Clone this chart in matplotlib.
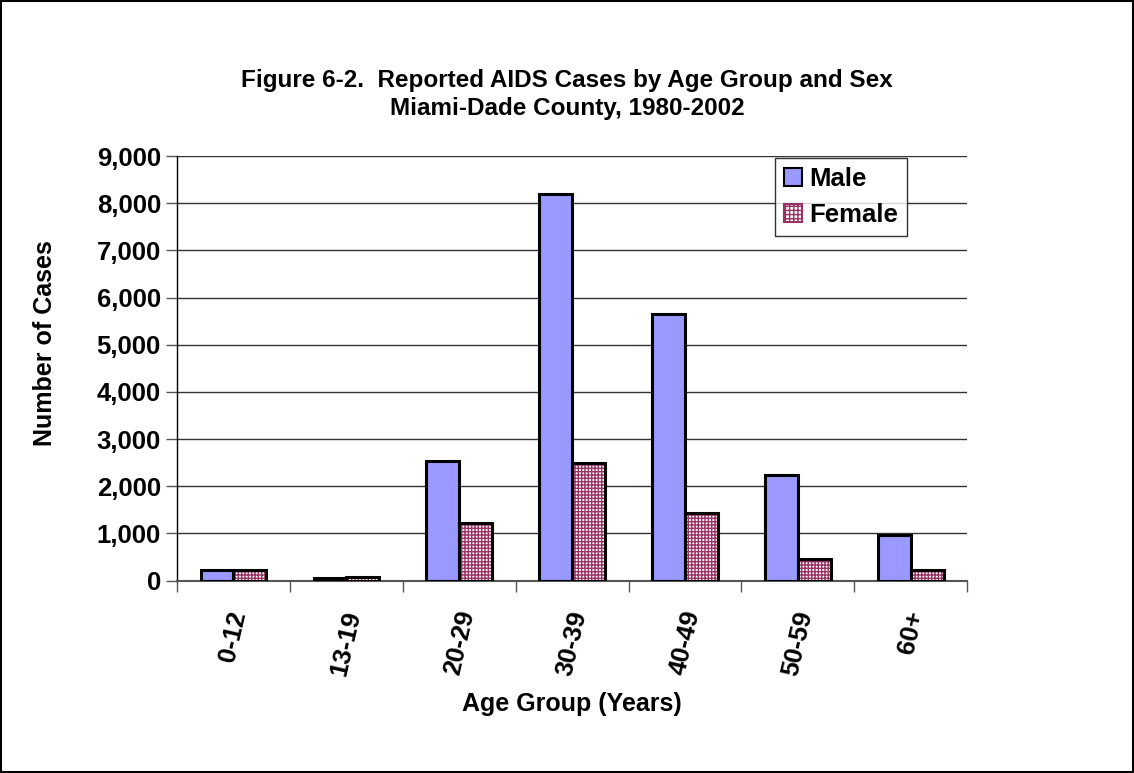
import numpy as np
import matplotlib
matplotlib.use('Agg')
import matplotlib.pyplot as plt
from matplotlib.patches import Patch, Rectangle

plt.rcParams['font.family'] = ['Liberation Sans', 'DejaVu Sans']
plt.rcParams['font.weight'] = 'bold'

groups = ['0-12', '13-19', '20-29', '30-39', '40-49', '50-59', '60+']
male = [230, 50, 2540, 8200, 5650, 2230, 970]
female = [230, 70, 1210, 2490, 1440, 450, 230]

male_color = '#9999ff'
fem_hatch = '#993366'

fig = plt.figure(figsize=(11.34, 7.73), dpi=100)
ax = fig.add_axes([0.156, 0.249, 0.697, 0.549])

x = np.arange(len(groups))
w = 0.29
ax.bar(x - w / 2, male, w, color=male_color, edgecolor='black', linewidth=2.2, zorder=3)
# female: hatched fill then black outline
ax.bar(x + w / 2, female, w, color='white', edgecolor=fem_hatch, hatch='+++++',
       linewidth=0, zorder=3)
ax.bar(x + w / 2, female, w, fill=False, edgecolor='black', linewidth=2.2, zorder=4)

ax.set_xlim(-0.5, len(groups) - 0.5)
ax.set_ylim(0, 9000)
ax.set_yticks(np.arange(0, 9001, 1000))
ax.set_yticklabels([f'{v:,}' for v in range(0, 9001, 1000)], fontsize=18.5, fontweight='bold')
ax.yaxis.grid(True, color='#333333', linewidth=1, zorder=0)
ax.set_axisbelow(True)

ax.set_xticks(x)
ax.set_xticklabels(groups, rotation=77, fontsize=18.5, fontweight='bold', ha='center')
ax.tick_params(axis='x', length=0, pad=20)
ax.set_xticks(np.arange(-0.5, len(groups)), minor=True)
ax.tick_params(axis='x', which='minor', length=8, width=1, color='#555555')
ax.tick_params(axis='y', length=8, width=1, color='#555555')

for s in ['top', 'right']:
    ax.spines[s].set_visible(False)
ax.spines['left'].set_linewidth(1)
ax.spines['bottom'].set_color('#555555')
ax.spines['bottom'].set_linewidth(1.5)

ax.set_ylabel('Number of Cases', fontsize=18, fontweight='bold')
ax.yaxis.set_label_coords(-0.152, 0.56)
ax.set_xlabel('Age Group (Years)', fontsize=18, fontweight='bold', labelpad=10)

fig.text(0.5, 0.878, 'Figure 6-2.  Reported AIDS Cases by Age Group and Sex\nMiami-Dade County, 1980-2002',
         ha='center', va='center', fontsize=17.5, fontweight='bold', linespacing=1.25)

handles = [Patch(facecolor=male_color, edgecolor='black', linewidth=1.5),
           Patch(facecolor='white', edgecolor=fem_hatch, hatch='++++', linewidth=1.5)]
leg = ax.legend(handles, ['Male', 'Female'], loc='upper right', bbox_to_anchor=(0.924, 0.995),
                fontsize=18.5, frameon=True, fancybox=False, edgecolor='black',
                handlelength=0.7, handleheight=0.7, handletextpad=0.3, borderpad=0.35,
                labelspacing=0.45, borderaxespad=0)
leg.get_frame().set_linewidth(1)

fig.patches.append(Rectangle((0.001, 0.001), 0.998, 0.998, transform=fig.transFigure,
                             fill=False, edgecolor='black', linewidth=1.5))

fig.savefig('out.png', dpi=100, facecolor='white')
